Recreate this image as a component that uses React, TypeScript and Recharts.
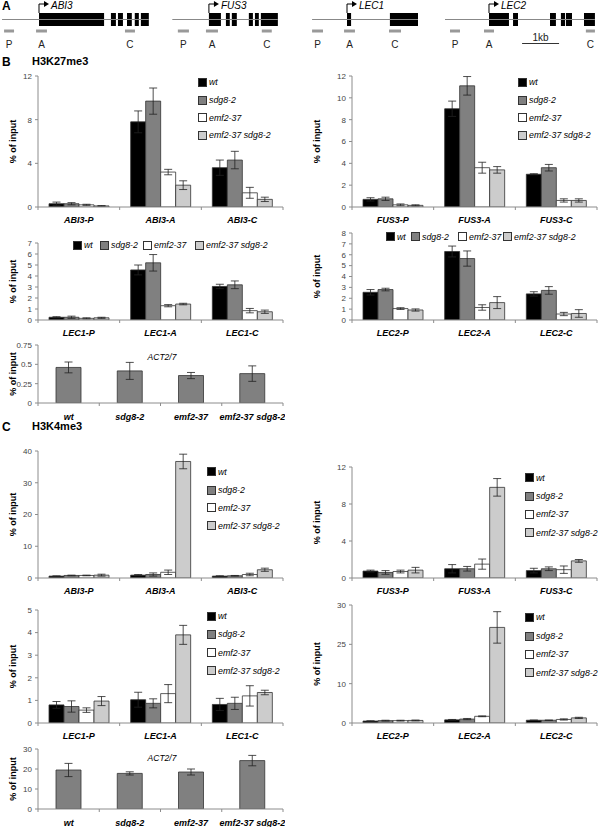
import React from 'react'
import {
  BarChart, Bar, XAxis, YAxis, ErrorBar,
  ComposedChart, ReferenceArea, ReferenceLine, ReferenceDot,
} from 'recharts'

const FONT = '"Liberation Sans", Arial, Helvetica, sans-serif'
const AXIS = '#8c8c8c'

const genotypes = ['wt', 'sdg8-2', 'emf2-37', 'emf2-37 sdg8-2']
const fills     = ['#000000', '#808080', '#ffffff', '#cccccc']
const probes    = ['P', 'A', 'C']

// --- panel A: gene models, bp relative to each TSS
const geneNames  = ['ABI3', 'FUS3', 'LEC1', 'LEC2']
const geneTss    = [1055, 5650, 9385, 13225]
const geneSpan   = [[-1000, 2970], [-990, 1865], [-945, 1920], [-1190, 2865]]
const geneExons  = [
  [[0, 1760], [1945, 2080], [2135, 2270], [2380, 2510], [2590, 2700], [2755, 2970]],
  [[0, 325], [460, 565], [620, 755], [1080, 1190], [1245, 1350], [1405, 1865]],
  [[0, 110], [1160, 1920]],
  [[0, 540], [650, 785], [1650, 1810], [1945, 2055], [2080, 2245], [2570, 2865]],
]
const geneProbes = [
  [[-945, -675], [-80, 215], [2325, 2595]],
  [[-840, -540], [-80, 245], [1430, 1700]],
  [[-945, -650], [-80, 215], [1135, 1460]],
  [[-1055, -785], [-135, 135], [2620, 2865]],
]
const scaleBar = [895, 1895] // 1 kb, relative to LEC2 TSS

// --- panel B: H3K27me3, % of input, rows = P/A/C, cols = genotypes
const k27Abi3    = [[0.3, 0.3, 0.2, 0.1], [7.8, 9.7, 3.2, 2.0], [3.6, 4.3, 1.3, 0.7]]
const k27Abi3Err = [[0.15, 0.1, 0.05, 0.03], [1.0, 1.2, 0.25, 0.4], [0.7, 0.8, 0.5, 0.2]]
const k27Fus3    = [[0.7, 0.75, 0.2, 0.15], [9.0, 11.1, 3.6, 3.4], [3.0, 3.6, 0.6, 0.6]]
const k27Fus3Err = [[0.15, 0.15, 0.08, 0.05], [0.7, 0.85, 0.5, 0.3], [0.05, 0.3, 0.15, 0.15]]
const k27Lec1    = [[0.25, 0.25, 0.15, 0.2], [4.55, 5.2, 1.3, 1.45], [3.05, 3.2, 0.85, 0.75]]
const k27Lec1Err = [[0.05, 0.1, 0.05, 0.05], [0.45, 0.75, 0.1, 0.07], [0.2, 0.35, 0.2, 0.15]]
const k27Lec2    = [[2.55, 2.8, 1.05, 0.92], [6.3, 5.65, 1.15, 1.6], [2.4, 2.72, 0.55, 0.6]]
const k27Lec2Err = [[0.25, 0.12, 0.08, 0.1], [0.5, 0.7, 0.25, 0.55], [0.2, 0.35, 0.15, 0.35]]
const k27Act     = [0.46, 0.415, 0.355, 0.38]
const k27ActErr  = [0.07, 0.11, 0.04, 0.1]

// --- panel C: H3K4me3
const k4Abi3    = [[0.6, 0.8, 0.8, 0.9], [0.9, 1.1, 1.8, 36.7], [0.6, 0.7, 1.1, 2.6]]
const k4Abi3Err = [[0.05, 0.1, 0.1, 0.3], [0.2, 0.5, 0.7, 2.3], [0.1, 0.1, 0.4, 0.5]]
const k4Fus3    = [[0.75, 0.6, 0.7, 0.85], [1.0, 1.0, 1.5, 9.8], [0.8, 1.0, 0.9, 1.85]]
const k4Fus3Err = [[0.1, 0.2, 0.15, 0.3], [0.45, 0.25, 0.55, 0.95], [0.25, 0.2, 0.4, 0.15]]
const k4Lec1    = [[0.8, 0.73, 0.57, 0.97], [1.03, 0.87, 1.3, 3.9], [0.82, 0.87, 1.2, 1.35]]
const k4Lec1Err = [[0.15, 0.25, 0.1, 0.2], [0.33, 0.2, 0.4, 0.42], [0.27, 0.27, 0.45, 0.1]]
const k4Lec2    = [[0.5, 0.6, 0.6, 0.65], [0.8, 1.0, 1.7, 24.3], [0.7, 0.7, 0.9, 1.3]]
const k4Lec2Err = [[0.05, 0.1, 0.1, 0.1], [0.1, 0.15, 0.1, 4.0], [0.05, 0.05, 0.15, 0.15]]
const k4Act     = [19.5, 17.8, 18.5, 24.2]
const k4ActErr  = [3.3, 0.8, 1.5, 2.6]

const lec2K4Ticks = ['0', '10', '25', '30']

function probeRows(gene: string, means: number[][], errs: number[][]) {
  return probes.map((p, i) => {
    const r: any = { x: i + 0.5, label: `${gene}-${p}` }
    means[i].forEach((v, j) => { r['v' + j] = v; r['e' + j] = errs[i][j] })
    return r
  })
}

function actRows(means: number[], errs: number[]) {
  return genotypes.map((g, i) => ({ x: i + 0.5, label: g, v0: means[i], e0: errs[i] }))
}

const catTick = (labels: string[], dy: number) => (p: any) => {
  const v = p.payload.value
  if (Number.isInteger(v)) {
    return <line x1={p.x} x2={p.x} y1={p.y} y2={p.y + 3} stroke={AXIS} />
  }
  return (
    <text x={p.x} y={p.y + dy} textAnchor="middle" fontSize={9}
      fontWeight="bold" fontStyle="italic" fill="#000">
      {labels[Math.floor(v)]}
    </text>
  )
}

interface ChartProps {
  rows     : any[]
  col      : 'L' | 'R'
  top      : number
  bottom   : number
  max      : number
  ticks    : number[]
  tickText?: string[]
  series   : string[]
  barSize  : number
}

function GroupChart({ rows, col, top, bottom, max, ticks, tickText, series, barSize }: ChartProps) {
  const c     = col === 'L' ? { left: 8, axisW: 30 } : { left: 312, axisW: 40 }
  const plotW = 245
  const plotH = bottom - top
  const n     = rows.length
  const xt    = Array.from({ length: 2 * n + 1 }, (_, i) => i / 2)
  const labels= rows.map(r => r.label)

  return (
    <div style={{ position: 'absolute', left: c.left, top: top - 5 }}>
      <BarChart width={c.axisW + plotW + 2} height={5 + plotH + 25} data={rows}
        margin={{ top: 5, right: 2, left: 0, bottom: 0 }} barGap={0}>
        <XAxis dataKey="x" type="number" domain={[0, n]} ticks={xt} interval={0}
          allowDataOverflow height={25} tickLine={false} tickSize={0} tickMargin={0}
          axisLine={{ stroke: AXIS }} tick={catTick(labels, n === 4 ? 17 : 16)} />
        <YAxis type="number" domain={[0, max]} ticks={ticks} interval={0} allowDataOverflow
          width={c.axisW} tickSize={3} tickMargin={3}
          tick={{ fontSize: 8, fill: '#444' }}
          axisLine={{ stroke: AXIS }} tickLine={{ stroke: AXIS }}
          tickFormatter={tickText ? (v: number) => tickText[ticks.indexOf(v)] : undefined}
          label={{
            value: '% of input', angle: -90, position: 'insideLeft', offset: 5,
            style: { textAnchor: 'middle', fontSize: 9, fontWeight: 'bold', fill: '#000' },
          }} />
        {series.map((fill, i) => (
          <Bar key={i} dataKey={'v' + i} fill={fill} stroke="#333" strokeWidth={0.8}
            barSize={barSize} isAnimationActive={false}>
            <ErrorBar dataKey={'e' + i} direction="y" width={4} stroke="#222" strokeWidth={0.8} />
          </Bar>
        ))}
      </BarChart>
    </div>
  )
}

function Swatch({ fill }: { fill: string }) {
  return <div style={{ width: 7, height: 7, background: fill, border: '1px solid #333', flex: 'none' }} />
}

function LegendItem({ x, y, i }: { x: number; y: number; i: number }) {
  return (
    <div style={{ position: 'absolute', left: x, top: y - 6, height: 12,
      display: 'flex', alignItems: 'center', gap: 2, fontSize: 8.8, fontStyle: 'italic',
      whiteSpace: 'nowrap' }}>
      <Swatch fill={fills[i]} /><span>{genotypes[i]}</span>
    </div>
  )
}

function VLegend({ x, ys }: { x: number; ys: number[] }) {
  return <>{genotypes.map((g, i) => <LegendItem key={g} x={x} y={ys[i]} i={i} />)}</>
}

function HLegend({ xs, y }: { xs: number[]; y: number }) {
  return <>{genotypes.map((g, i) => <LegendItem key={g} x={xs[i]} y={y} i={i} />)}</>
}

function Txt({ x, y, size, bold, italic, center, children }: any) {
  return (
    <div style={{ position: 'absolute', left: center ? x - 50 : x, top: y - size * 0.6,
      width: center ? 100 : undefined, textAlign: center ? 'center' : 'left',
      fontSize: size, fontWeight: bold ? 'bold' : 'normal', fontStyle: italic ? 'italic' : 'normal',
      lineHeight: `${size * 1.2}px`, whiteSpace: 'nowrap' }}>
      {children}
    </div>
  )
}

function GeneMap() {
  return (
    <div style={{ position: 'absolute', left: 0, top: 0 }}>
      <ComposedChart width={599} height={50} margin={{ top: 0, right: 0, left: 0, bottom: 0 }}>
        <XAxis type="number" dataKey="x" domain={[0, 16200]} hide allowDataOverflow />
        <YAxis type="number" domain={[0, 50]} reversed hide allowDataOverflow />
        {geneNames.map((name, g) => {
          const t = geneTss[g]
          return (
            <React.Fragment key={name}>
              <ReferenceLine ifOverflow="visible" stroke="#888" strokeWidth={1.2}
                segment={[{ x: t + geneSpan[g][0], y: 19.5 }, { x: t + geneSpan[g][1], y: 19.5 }]} />
              {geneExons[g].map(([s, e], i) => (
                <ReferenceArea key={'e' + i} x1={t + s} x2={t + e} y1={13} y2={26}
                  fill="#000" fillOpacity={1} stroke="none" ifOverflow="visible" />
              ))}
              {geneProbes[g].map(([s, e], i) => (
                <React.Fragment key={'p' + i}>
                  <ReferenceArea x1={t + s} x2={t + e} y1={29.5} y2={32.5}
                    fill="#999" fillOpacity={1} stroke="none" ifOverflow="visible" />
                  <ReferenceDot x={t + (s + e) / 2} y={44} ifOverflow="visible"
                    shape={(p: any) => (
                      <text x={p.cx} y={p.cy + 3.5} textAnchor="middle" fontSize={10} fill="#222">
                        {probes[i]}
                      </text>
                    )} />
                </React.Fragment>
              ))}
              <ReferenceDot x={t} y={13} ifOverflow="visible"
                shape={(p: any) => (
                  <g>
                    <path d={`M${p.cx},${p.cy} V${p.cy - 9} H${p.cx + 6}`} stroke="#000" fill="none" />
                    <path d={`M${p.cx + 5},${p.cy - 12} L${p.cx + 10},${p.cy - 9} L${p.cx + 5},${p.cy - 6} Z`} fill="#000" />
                    <text x={p.cx + 12} y={p.cy - 4} fontSize={10} fontStyle="italic" fill="#000">{name}</text>
                  </g>
                )} />
            </React.Fragment>
          )
        })}
        <ReferenceLine ifOverflow="visible" stroke="#333" strokeWidth={1}
          segment={[{ x: geneTss[3] + scaleBar[0], y: 43.5 }, { x: geneTss[3] + scaleBar[1], y: 43.5 }]} />
        <ReferenceDot x={geneTss[3] + (scaleBar[0] + scaleBar[1]) / 2} y={37} ifOverflow="visible"
          shape={(p: any) => (
            <text x={p.cx} y={p.cy + 3.5} textAnchor="middle" fontSize={10} fill="#222">1kb</text>
          )} />
      </ComposedChart>
    </div>
  )
}

export default function App() {
  const grp = fills
  return (
    <div style={{ position: 'absolute', left: 0, top: 0, width: 599, height: 827,
      background: '#fff', overflow: 'hidden', fontFamily: FONT, color: '#000' }}>
      <GeneMap />
      <Txt x={2} y={6} size={12} bold>A</Txt>

      <Txt x={2} y={62} size={12} bold>B</Txt>
      <Txt x={32} y={62} size={11} bold>H3K27me3</Txt>

      <GroupChart rows={probeRows('ABI3', k27Abi3, k27Abi3Err)} col="L" top={76} bottom={207}
        max={12} ticks={[0, 4, 8, 12]} series={grp} barSize={15} />
      <VLegend x={198} ys={[82, 100, 117.5, 135]} />

      <GroupChart rows={probeRows('FUS3', k27Fus3, k27Fus3Err)} col="R" top={76} bottom={207}
        max={12} ticks={[0, 2, 4, 6, 8, 10, 12]} series={grp} barSize={15} />
      <VLegend x={518} ys={[82, 100, 117.5, 135]} />

      <GroupChart rows={probeRows('LEC1', k27Lec1, k27Lec1Err)} col="L" top={243} bottom={320}
        max={7} ticks={[0, 1, 2, 3, 4, 5, 6, 7]} series={grp} barSize={15} />
      <HLegend xs={[73, 100, 143, 195]} y={245} />

      <GroupChart rows={probeRows('LEC2', k27Lec2, k27Lec2Err)} col="R" top={233} bottom={320}
        max={8} ticks={[0, 1, 2, 3, 4, 5, 6, 7, 8]} series={grp} barSize={15} />
      <HLegend xs={[386, 411, 458, 503]} y={236.5} />

      <GroupChart rows={actRows(k27Act, k27ActErr)} col="L" top={345} bottom={403}
        max={0.75} ticks={[0, 0.25, 0.5, 0.75]} series={['#808080']} barSize={25} />
      <Txt x={162} y={357} size={8.5} italic center>ACT2/7</Txt>

      <Txt x={2} y={427} size={12} bold>C</Txt>
      <Txt x={32} y={427} size={11} bold>H3K4me3</Txt>

      <GroupChart rows={probeRows('ABI3', k4Abi3, k4Abi3Err)} col="L" top={451} bottom={578}
        max={40} ticks={[0, 10, 20, 30, 40]} series={grp} barSize={15} />
      <VLegend x={207} ys={[471.7, 490, 507.7, 525.7]} />

      <GroupChart rows={probeRows('FUS3', k4Fus3, k4Fus3Err)} col="R" top={467} bottom={578}
        max={12} ticks={[0, 4, 8, 12]} series={grp} barSize={15} />
      <VLegend x={525} ys={[477.7, 496, 514.3, 532.7]} />

      <GroupChart rows={probeRows('LEC1', k4Lec1, k4Lec1Err)} col="L" top={610} bottom={723}
        max={5} ticks={[0, 1, 2, 3, 4, 5]} series={grp} barSize={15} />
      <VLegend x={207} ys={[616, 634.3, 652.7, 670.7]} />

      <GroupChart rows={probeRows('LEC2', k4Lec2, k4Lec2Err)} col="R" top={605} bottom={723}
        max={30} ticks={[0, 10, 20, 30]} tickText={lec2K4Ticks} series={grp} barSize={15} />
      <VLegend x={525} ys={[617.3, 636, 654, 672.7]} />

      <GroupChart rows={actRows(k4Act, k4ActErr)} col="L" top={749} bottom={809}
        max={30} ticks={[0, 10, 20, 30]} series={['#808080']} barSize={25} />
      <Txt x={162} y={758} size={8.5} italic center>ACT2/7</Txt>
    </div>
  )
}
